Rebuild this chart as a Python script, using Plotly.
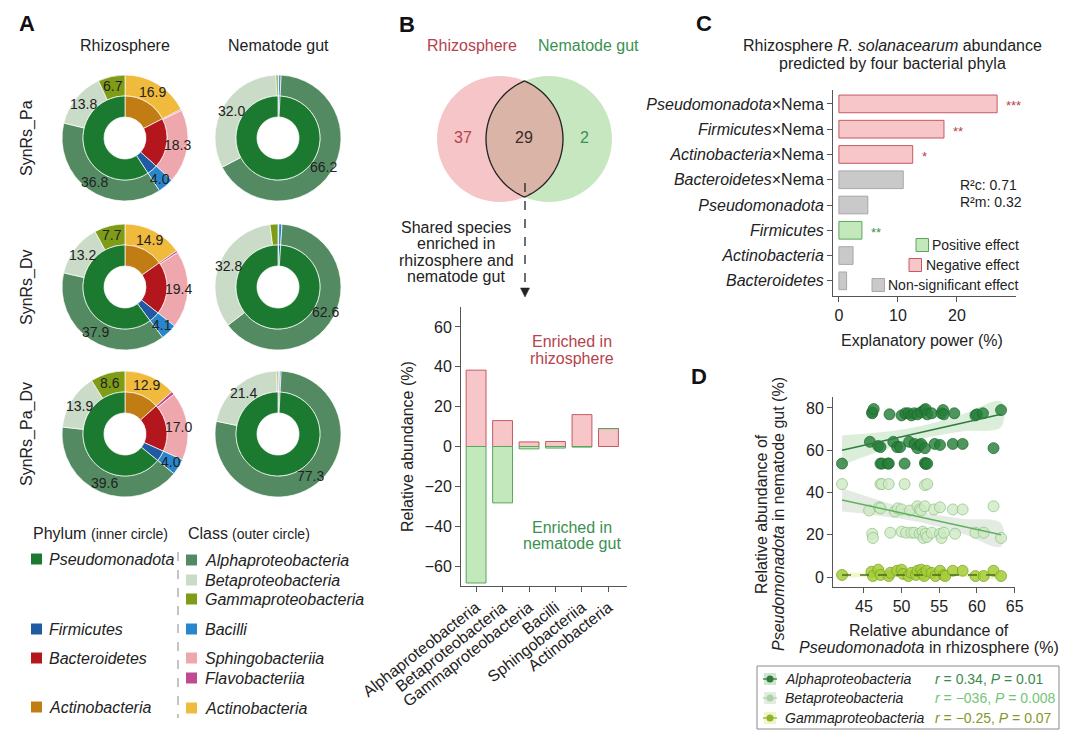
import numpy as np
import plotly.graph_objects as go

W, H = 1080, 747
FONT = "Liberation Sans, Arial, Helvetica, sans-serif"
TXT = "#222222"
AX = "#555555"
RED = "#b5434d"
GREEN = "#3a9150"

# ---------------- Panel A data ----------------
class_names = ["Actinobacteria", "Flavobacteriia", "Sphingobacteriia", "Bacilli",
               "Alphaproteobacteria", "Betaproteobacteria", "Gammaproteobacteria"]
class_colors = ["#f0bb3c", "#c04a92", "#eea7ad", "#2a86cc",
                "#548a62", "#cadbc8", "#7f9c17"]
phylum_names = ["Actinobacteria", "Bacteroidetes", "Firmicutes", "Pseudomonadota"]
phylum_colors = ["#c27c14", "#b3161c", "#1f5aa3", "#1b7a2f"]
class_phylum = [0, 1, 1, 2, 3, 3, 3]
sample_names = ["SynRs_Pa", "SynRs_Dv", "SynRs_Pa_Dv"]
compartments = ["Rhizosphere", "Nematode gut"]
rhizo_pa = [16.9, 0.3, 18.3, 4.0, 36.8, 13.8, 6.7]
rhizo_dv = [14.9, 0.5, 19.4, 4.1, 37.9, 13.2, 7.7]
rhizo_padv = [12.9, 0.8, 17.0, 4.0, 39.6, 13.9, 8.6]
gut_pa = [0.0, 0.0, 0.2, 0.6, 66.2, 32.0, 0.5]
gut_dv = [0.0, 0.0, 0.2, 0.8, 62.6, 32.8, 2.0]
gut_padv = [0.0, 0.0, 0.4, 0.4, 77.3, 21.4, 0.3]
legend_phylum_order = ["Pseudomonadota", "Firmicutes", "Bacteroidetes", "Actinobacteria"]
legend_class_order = ["Alphaproteobacteria", "Betaproteobacteria", "Gammaproteobacteria",
                      "Bacilli", "Sphingobacteriia", "Flavobacteriia", "Actinobacteria"]

# ---------------- Panel B data ----------------
venn_labels = ["Rhizosphere", "Nematode gut"]
venn_counts = [37, 29, 2]
b_classes = ["Alphaproteobacteria", "Betaproteobacteria", "Gammaproteobacteria",
             "Bacilli", "Sphingobacteriia", "Actinobacteria"]
b_rhizo = [38.3, 13.0, 2.3, 2.5, 16.0, 9.0]
b_gut = [-68.5, -28.3, -1.2, -0.8, -0.3, 0.0]
b_yticks = [-60, -40, -20, 0, 20, 40, 60]

# ---------------- Panel C data ----------------
c_phyla = ["Pseudomonadota", "Firmicutes", "Actinobacteria", "Bacteroidetes",
           "Pseudomonadota", "Firmicutes", "Actinobacteria", "Bacteroidetes"]
c_nema = [True, True, True, True, False, False, False, False]
c_power = [26.8, 17.8, 12.5, 10.9, 4.9, 3.9, 2.4, 1.3]
c_effect = ["neg", "neg", "neg", "ns", "ns", "pos", "ns", "ns"]
c_sig = ["***", "**", "*", "", "", "**", "", ""]
c_xticks = [0, 10, 20]

# ---------------- Panel D data ----------------
alpha_x = [46.1, 46.1, 46.3, 48.4, 50.0, 50.5, 50.9, 51.3, 51.7, 52.1, 52.6, 53.0, 53.2, 53.4,
           54.0, 55.3, 55.5, 55.6, 57.0, 59.8, 60.0, 60.8, 63.2,
           45.8, 46.9, 47.2, 48.9, 49.4, 49.8, 51.0, 51.7, 52.1, 52.4, 52.6, 53.1, 54.4, 55.1,
           56.8, 58.1, 62.2,
           42.1, 47.2, 47.4, 48.2, 48.3, 50.4, 53.1, 53.2, 53.4]
alpha_y = [78.0, 77.5, 79.5, 77.0, 76.5, 77.5, 77.5, 76.5, 77.5, 77.0, 78.0, 79.0, 79.5, 77.0,
           77.5, 77.5, 79.0, 77.0, 77.5, 76.5, 77.0, 77.5, 79.0,
           64.0, 62.0, 61.5, 64.0, 61.5, 61.5, 64.0, 63.0, 61.0, 62.5, 63.0, 61.0, 63.0, 62.5,
           63.0, 63.0, 61.0,
           53.7, 53.7, 53.7, 53.7, 53.7, 53.7, 54.0, 53.5, 53.7]
beta_x = [42.1, 47.2, 47.4, 48.3, 50.4, 53.1, 53.4,
          45.7, 47.0, 47.2, 49.1, 49.5, 50.0, 51.1, 52.1, 52.4, 52.6, 53.1, 54.3, 55.1, 56.8,
          58.1, 62.2,
          46.1, 46.2, 48.5, 50.0, 50.6, 51.3, 51.7, 52.4, 52.8, 52.9, 53.2, 53.4, 54.0, 55.1,
          55.3, 55.6, 57.1, 59.8, 60.9, 63.2]
beta_y = [44.0, 44.0, 44.0, 44.0, 44.0, 43.5, 44.0,
          31.5, 33.0, 32.5, 31.0, 32.5, 32.0, 31.5, 33.5, 32.0, 31.5, 33.5, 32.0, 33.0, 32.0,
          32.0, 33.5,
          20.5, 18.5, 21.0, 21.5, 21.0, 21.0, 21.0, 20.5, 21.5, 18.5, 20.5, 19.0, 21.0, 20.5,
          18.5, 21.0, 20.5, 21.0, 21.0, 18.5]
gamma_x = [42.1, 46.0, 46.2, 46.9, 47.2, 48.3, 48.5, 49.4, 50.0, 50.2, 50.9, 51.3, 51.9, 52.1,
           52.6, 52.8, 53.0, 53.3, 54.0, 54.5, 55.1, 55.6, 55.8, 56.8, 58.1, 59.8, 60.9, 62.2, 63.2]
gamma_y = [1.0, 2.5, 0.5, 3.5, 1.0, 0.5, 2.0, 3.0, 3.5, 1.5, 0.5, 2.0, 1.0, 3.0,
           3.5, 1.5, 0.5, 3.0, 2.0, 0.5, 3.0, 1.0, 0.5, 3.0, 3.0, 0.5, 0.5, 3.0, 0.5]
fit_x = [42.1, 47.5, 52.6, 58.0, 63.2]
alpha_fit = [60.0, 64.3, 68.5, 72.9, 77.0]
alpha_lo = [53.0, 60.0, 65.5, 68.9, 71.0]
alpha_hi = [67.0, 68.6, 71.5, 76.9, 83.0]
beta_fit = [36.5, 32.3, 28.3, 24.1, 20.0]
beta_lo = [31.0, 28.8, 25.8, 20.6, 14.5]
beta_hi = [42.0, 35.8, 30.8, 27.6, 25.5]
gamma_fit = [1.0, 1.0, 1.0, 1.0, 1.0]
gamma_lo = [-0.3, 0.3, 0.5, 0.3, -0.3]
gamma_hi = [2.3, 1.7, 1.5, 1.7, 2.3]
d_names = ["Alphaproteobacteria", "Betaproteobacteria", "Gammaproteobacteria"]
d_stats = ["<i>r</i> = 0.34, <i>P</i> = 0.01", "<i>r</i> = \u2212036, <i>P</i> = 0.008",
           "<i>r</i> = \u22120.25, <i>P</i> = 0.07"]
d_xticks = [45, 50, 55, 60, 65]
d_yticks = [0, 20, 40, 60, 80]


# ---------------- helpers ----------------
def X(p):
    return p / W


def Y(p):
    return 1 - p / H


ann = []
shp = []


def text(x, y, s, size=16, color=TXT, xa="center", ya="middle", angle=0):
    ann.append(dict(x=X(x), y=Y(y), xref="paper", yref="paper", text=s, showarrow=False,
                    font=dict(size=size, color=color, family=FONT), xanchor=xa, yanchor=ya,
                    textangle=angle))


def rect(x0, y0, x1, y1, fill, line=None, lw=0):
    shp.append(dict(type="rect", xref="paper", yref="paper", x0=X(x0), x1=X(x1), y0=Y(y1), y1=Y(y0),
                    fillcolor=fill, line=dict(color=line or fill, width=lw)))


def line(x0, y0, x1, y1, color, width=1, dash="solid"):
    shp.append(dict(type="line", xref="paper", yref="paper", x0=X(x0), x1=X(x1), y0=Y(y0), y1=Y(y1),
                    line=dict(color=color, width=width, dash=dash)))


def circle(cx, cy, r, fill, lc=None, lw=0):
    shp.append(dict(type="circle", xref="paper", yref="paper", x0=X(cx - r), x1=X(cx + r),
                    y0=Y(cy + r), y1=Y(cy - r), fillcolor=fill, line=dict(color=lc or fill, width=lw)))


def polypath(pts):
    return "M " + " L ".join(f"{X(a):.5f},{Y(b):.5f}" for a, b in pts) + " Z"


fig = go.Figure()

# ================= Panel A =================
text(27, 24, "<b>A</b>", size=22, color="#111")
pie_cx = [125, 278]
pie_cy = [138, 287, 434]
R_OUT, R_MID, R_IN = 63, 42, 21
for j, name in enumerate(compartments):
    text(pie_cx[j], 46, name)
samples = [(rhizo_pa, gut_pa), (rhizo_dv, gut_dv), (rhizo_padv, gut_padv)]
for i, pair in enumerate(samples):
    text(27, pie_cy[i], sample_names[i], angle=-90)
    for j, vals in enumerate(pair):
        cx, cy = pie_cx[j], pie_cy[i]
        phy = [sum(v for v, p in zip(vals, class_phylum) if p == k) for k in range(len(phylum_names))]
        fig.add_trace(go.Pie(
            values=vals, labels=["c:" + c for c in class_names],
            marker=dict(colors=class_colors, line=dict(color="white", width=0.7)),
            hole=R_MID / R_OUT, sort=False, direction="clockwise", rotation=0,
            textinfo="none", hoverinfo="skip", showlegend=False,
            domain=dict(x=[X(cx - R_OUT), X(cx + R_OUT)], y=[Y(cy + R_OUT), Y(cy - R_OUT)])))
        fig.add_trace(go.Pie(
            values=phy, labels=["p:" + p for p in phylum_names],
            marker=dict(colors=phylum_colors, line=dict(color="white", width=0.7)),
            hole=R_IN / R_MID, sort=False, direction="clockwise", rotation=0,
            textinfo="none", hoverinfo="skip", showlegend=False,
            domain=dict(x=[X(cx - R_MID), X(cx + R_MID)], y=[Y(cy + R_MID), Y(cy - R_MID)])))
        total = sum(vals)
        cum = 0.0
        for v in vals:
            if v >= 3:
                a = np.deg2rad((cum + v / 2) / total * 360)
                r = (R_OUT + R_MID) / 2 + 1
                text(cx + r * np.sin(a), cy - r * np.cos(a), f"{v:.1f}", size=14)
            cum += v

# legend A
text(31, 533, "Phylum", xa="left")
text(89, 534, "(inner circle)", size=14, xa="left")
text(186, 533, "Class", xa="left")
text(230, 534, "(outer circle)", size=14, xa="left")
phylum_leg_y = [559, 629, 658, 707]
class_leg_y = [560, 580, 599, 629, 658, 678, 708]
for nm, yy in zip(legend_phylum_order, phylum_leg_y):
    rect(31, yy - 5.5, 42, yy + 5.5, phylum_colors[phylum_names.index(nm)])
    text(47, yy, f"<i>{nm}</i>", xa="left")
for nm, yy in zip(legend_class_order, class_leg_y):
    rect(186, yy - 5.5, 197, yy + 5.5, class_colors[class_names.index(nm)])
    text(203, yy, f"<i>{nm}</i>", xa="left")
line(178, 552, 178, 718, "#888888", 1, "dash")

# ================= Panel B =================
text(407, 25, "<b>B</b>", size=22, color="#111")
text(472, 46, venn_labels[0], color=RED)
text(588, 46, venn_labels[1], color=GREEN)
VL, VR, VY, VRAD = 500, 549, 139, 63
circle(VL, VY, VRAD, "#f5c5c7")
circle(VR, VY, VRAD, "#c6e7c0")
h = np.sqrt(VRAD ** 2 - ((VR - VL) / 2) ** 2)
ang = np.arcsin(h / VRAD)
pts = [(VR + VRAD * np.cos(t), VY + VRAD * np.sin(t)) for t in np.linspace(np.pi + ang, np.pi - ang, 40)] + \
      [(VL + VRAD * np.cos(t), VY + VRAD * np.sin(t)) for t in np.linspace(ang, -ang, 40)]
shp.append(dict(type="path", xref="paper", yref="paper", path=polypath(pts),
                fillcolor="#dab5a7", line=dict(color="#222222", width=1.3)))
text(463, 137, str(venn_counts[0]), color=RED)
text(524, 137, str(venn_counts[1]), color="#3a2a2a")
text(584, 137, str(venn_counts[2]), color=GREEN)
line(525, 183, 525, 289, "#222222", 1.3, "dash")
shp.append(dict(type="path", xref="paper", yref="paper",
                path=polypath([(520.5, 288), (529.5, 288), (525, 297)]),
                fillcolor="#222222", line=dict(color="#222222", width=0.5)))
for k, s in enumerate(["Shared species", "enriched in", "rhizosphere and", "nematode gut"]):
    text(456, 227 + k * 16.5, s)

fig.add_trace(go.Bar(x=b_classes, y=b_rhizo, width=0.75, xaxis="x", yaxis="y",
                     marker=dict(color="#f6c6c8", line=dict(color="#c55a62", width=1)),
                     hoverinfo="skip", showlegend=False))
fig.add_trace(go.Bar(x=b_classes, y=b_gut, width=0.75, xaxis="x", yaxis="y",
                     marker=dict(color="#c3e8bc", line=dict(color="#5aa65e", width=1)),
                     hoverinfo="skip", showlegend=False))
text(407, 447, "Relative abundance (%)", angle=-90)
text(572, 342, "Enriched in", color=RED)
text(572, 358, "rhizosphere", color=RED)
text(572, 527, "Enriched in", color=GREEN)
text(572, 543, "nematode gut", color=GREEN)

# ================= Panel C =================
text(704, 24, "<b>C</b>", size=22, color="#111")
text(892, 46, "Rhizosphere <i>R. solanacearum</i> abundance")
text(892, 64, "predicted by four bacterial phyla")
fills = {"neg": "#f6c6c8", "pos": "#c3e8bc", "ns": "#c9c9c9"}
edges = {"neg": "#c55a62", "pos": "#5aa65e", "ns": "#a8a8a8"}
c_pos = list(range(len(c_power)))
c_labels = [f"<i>{p}</i>\u00d7Nema" if n else f"<i>{p}</i>" for p, n in zip(c_phyla, c_nema)]
fig.add_trace(go.Bar(x=c_power, y=c_pos, orientation="h", width=0.7, xaxis="x2", yaxis="y2",
                     marker=dict(color=[fills[e] for e in c_effect],
                                 line=dict(color=[edges[e] for e in c_effect], width=1)),
                     hoverinfo="skip", showlegend=False))
for v, p, s, e in zip(c_power, c_pos, c_sig, c_effect):
    if s:
        ann.append(dict(x=v + 1.2, y=p, xref="x2", yref="y2", text=s, showarrow=False,
                        xanchor="left", yanchor="middle", yshift=-2,
                        font=dict(size=13, color=RED if e == "neg" else GREEN, family=FONT)))
text(958, 185, "R\u00b2c: 0.71", size=14, xa="left")
text(958, 202, "R\u00b2m: 0.32", size=14, xa="left")
c_leg = [("Positive effect", "pos", 245, 916), ("Negative effect", "neg", 265, 909),
         ("Non-significant effect", "ns", 285, 872)]
for lab, e, yy, sx in c_leg:
    rect(sx, yy - 6.5, sx + 12.5, yy + 6.5, fills[e], edges[e], 1)
    text(1021, yy, lab, size=14, xa="right")
text(922, 340, "Explanatory power (%)")

# ================= Panel D =================
text(699, 376, "<b>D</b>", size=22, color="#111")
bands = [(alpha_lo, alpha_hi, "rgba(150,205,150,0.35)"),
         (beta_lo, beta_hi, "rgba(185,205,185,0.40)"),
         (gamma_lo, gamma_hi, "rgba(225,240,160,0.55)")]
for lo, hi, col in bands:
    fig.add_trace(go.Scatter(x=fit_x + fit_x[::-1], y=hi + lo[::-1], fill="toself", fillcolor=col,
                             mode="lines", line=dict(width=0, shape="spline"), xaxis="x3", yaxis="y3",
                             hoverinfo="skip", showlegend=False))
pts_style = [(gamma_x, gamma_y, "rgba(165,205,55,0.85)", "rgba(120,160,30,0.9)"),
             (beta_x, beta_y, "rgba(208,233,198,0.8)", "rgba(140,195,130,0.9)"),
             (alpha_x, alpha_y, "rgba(38,128,58,0.82)", "rgba(30,100,45,0.9)")]
for xs, ys, fc, lc in pts_style:
    fig.add_trace(go.Scatter(x=xs, y=ys, mode="markers", xaxis="x3", yaxis="y3",
                             marker=dict(size=11, color=fc, line=dict(color=lc, width=0.8)),
                             hoverinfo="skip", showlegend=False))
fits = [(alpha_fit, "#2e7d3e", "solid"), (beta_fit, "#5cb35c", "solid"), (gamma_fit, "#4d6b1f", "dash")]
for fy, col, dsh in fits:
    fig.add_trace(go.Scatter(x=fit_x, y=fy, mode="lines", xaxis="x3", yaxis="y3",
                             line=dict(color=col, width=1.5, dash=dsh),
                             hoverinfo="skip", showlegend=False))
text(761, 514, "Relative abundance of", angle=-90)
text(778, 514, "<i>Pseudomonadota</i> in nematode gut (%)", angle=-90)
text(929, 630, "Relative abundance of")
text(929, 647, "<i>Pseudomonadota</i> in rhizosphere (%)")

# legend D
rect(757, 666, 1059, 729, "white", "#8a8a8a", 1)
leg_rows = [679, 698, 718]
icon_bg = ["#cfe6cf", "#e3ebe3", "#eef5c8"]
icon_col = ["#2e7d3e", "#a9d49f", "#8db52a"]
stat_col = ["#3b8a4d", "#76c476", "#7f9a2a"]
for k, yy in enumerate(leg_rows):
    rect(764, yy - 6, 776, yy + 6, icon_bg[k])
    line(763, yy, 777, yy, icon_col[k], 1.3)
    circle(770, yy, 3.5, icon_col[k])
    text(783, yy, f"<i>{d_names[k]}</i>", size=14, xa="left")
    text(933, yy, d_stats[k], size=14, color=stat_col[k], xa="left")

# ================= Layout =================
axis_common = dict(showline=True, linecolor=AX, linewidth=1, ticks="outside", ticklen=5,
                   tickcolor=AX, tickwidth=1, showgrid=False, zeroline=False, automargin=False,
                   tickfont=dict(size=16, color=TXT, family=FONT), fixedrange=True)

fig.update_layout(
    width=W, height=H, autosize=False,
    margin=dict(l=0, r=0, t=0, b=0, pad=0),
    paper_bgcolor="white", plot_bgcolor="white",
    showlegend=False, barmode="relative",
    font=dict(family=FONT, size=16, color=TXT),
    annotations=ann, shapes=shp,
    xaxis=dict(axis_common, domain=[X(461), X(627)], range=[-0.57, 5.7], anchor="y",
               tickangle=-38, type="category"),
    yaxis=dict(axis_common, domain=[Y(586), Y(307)], range=[-70, 70], anchor="x",
               tickvals=b_yticks),
    xaxis2=dict(axis_common, domain=[X(833), X(1016)], range=[-1, 30], anchor="y2",
                tickvals=c_xticks),
    yaxis2=dict(axis_common, domain=[Y(296), Y(90)], range=[7.6, -0.55], anchor="x2",
                tickvals=c_pos, ticktext=c_labels),
    xaxis3=dict(axis_common, domain=[X(833), X(1015)], range=[40.9, 65.05], anchor="y3",
                tickvals=d_xticks),
    yaxis3=dict(axis_common, domain=[Y(587), Y(397)], range=[-4.7, 85.2], anchor="x3",
                tickvals=d_yticks),
)

fig.write_html("out.html", config={"displayModeBar": False},
               post_script="document.body.style.margin='0px';document.body.style.overflow='hidden';")
